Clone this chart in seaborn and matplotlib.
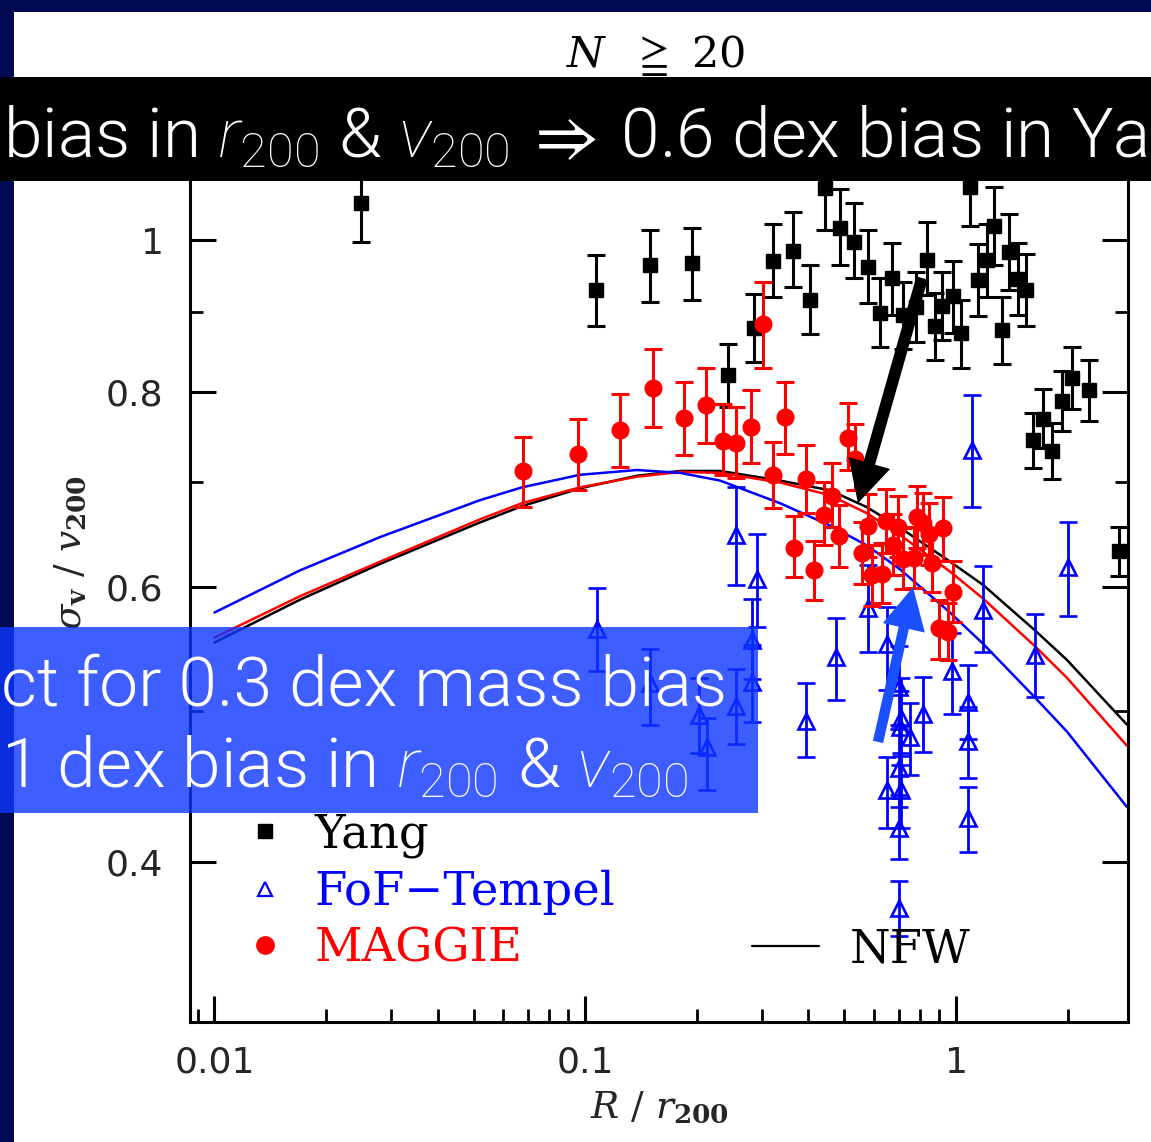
import numpy as np
import pandas as pd
import matplotlib
matplotlib.use("Agg")
import matplotlib.pyplot as plt
import matplotlib.ticker as mticker
import matplotlib.font_manager as fm
from matplotlib.patches import Rectangle
from matplotlib.lines import Line2D
import seaborn as sns

# ---------------- data ----------------
yang_x = [0.0248, 0.1069, 0.1495, 0.1941, 0.2427, 0.2853, 0.3209, 0.3635, 0.4039, 0.4430,
          0.4865, 0.5307, 0.579, 0.624, 0.672, 0.719, 0.780, 0.834, 0.876, 0.917,
          0.982, 1.032, 1.091, 1.146, 1.212, 1.270, 1.327, 1.389, 1.470, 1.544,
          1.614, 1.717, 1.815, 1.932, 2.055, 2.278, 2.753]
yang_y = [1.057, 0.929, 0.964, 0.967, 0.820, 0.879, 0.970, 0.985, 0.916, 1.080,
          1.019, 0.997, 0.962, 0.898, 0.946, 0.896, 0.906, 0.972, 0.881, 0.908,
          0.921, 0.872, 1.081, 0.943, 0.972, 1.021, 0.876, 0.983, 0.944, 0.930,
          0.745, 0.769, 0.733, 0.789, 0.817, 0.802, 0.633]
yang_lo = [0.997, 0.882, 0.913, 0.916, 0.782, 0.836, 0.920, 0.933, 0.871, 1.016,
           0.964, 0.946, 0.912, 0.854, 0.896, 0.852, 0.861, 0.922, 0.839, 0.863,
           0.873, 0.829, 1.021, 0.894, 0.920, 0.965, 0.834, 0.930, 0.896, 0.882,
           0.715, 0.737, 0.704, 0.755, 0.780, 0.766, 0.610]
yang_hi = [1.122, 0.978, 1.016, 1.019, 0.858, 0.924, 1.025, 1.042, 0.964, 1.147,
           1.078, 1.056, 1.016, 0.946, 0.996, 0.940, 0.954, 1.027, 0.926, 0.955,
           0.970, 0.916, 1.147, 0.994, 1.025, 1.081, 0.920, 1.039, 0.996, 0.980,
           0.776, 0.803, 0.764, 0.825, 0.854, 0.838, 0.656]

maggie_x = [0.0679, 0.0956, 0.1241, 0.1523, 0.1847, 0.2118, 0.2352, 0.2551, 0.2800, 0.3016,
            0.3209, 0.3458, 0.3660, 0.3932, 0.4140, 0.4406, 0.4629, 0.4837, 0.5113, 0.5326,
            0.5577, 0.579, 0.593, 0.631, 0.647, 0.676, 0.698, 0.719, 0.770, 0.785,
            0.815, 0.848, 0.862, 0.898, 0.922, 0.952, 0.982]
maggie_y = [0.712, 0.730, 0.756, 0.804, 0.770, 0.785, 0.744, 0.742, 0.760, 0.884,
            0.708, 0.771, 0.636, 0.704, 0.615, 0.667, 0.686, 0.647, 0.747, 0.725,
            0.631, 0.657, 0.611, 0.612, 0.661, 0.638, 0.656, 0.625, 0.626, 0.665,
            0.659, 0.649, 0.622, 0.565, 0.655, 0.562, 0.596]
maggie_lo = [0.675, 0.692, 0.716, 0.760, 0.729, 0.742, 0.708, 0.705, 0.720, 0.829,
             0.674, 0.730, 0.609, 0.669, 0.589, 0.638, 0.656, 0.618, 0.713, 0.692,
             0.603, 0.627, 0.584, 0.586, 0.631, 0.611, 0.627, 0.598, 0.599, 0.636,
             0.629, 0.620, 0.596, 0.540, 0.624, 0.539, 0.570]
maggie_hi = [0.748, 0.769, 0.798, 0.852, 0.812, 0.829, 0.786, 0.782, 0.802, 0.940,
             0.743, 0.812, 0.666, 0.740, 0.642, 0.700, 0.720, 0.677, 0.787, 0.763,
             0.660, 0.688, 0.638, 0.640, 0.693, 0.668, 0.686, 0.655, 0.656, 0.696,
             0.689, 0.679, 0.652, 0.589, 0.685, 0.586, 0.624]

fof_x = [0.1076, 0.1495, 0.2031, 0.2127, 0.2551, 0.2551, 0.2818, 0.2818, 0.2898, 0.3932,
         0.4746, 0.579, 0.6514, 0.6514, 0.700, 0.712, 0.706, 0.700, 0.712, 0.700,
         0.702, 0.751, 0.815, 0.975, 1.078, 1.078, 1.078, 1.105, 1.183, 1.633, 2.005]
fof_y = [0.564, 0.521, 0.497, 0.474, 0.648, 0.504, 0.555, 0.522, 0.607, 0.493,
         0.541, 0.582, 0.552, 0.445, 0.518, 0.495, 0.488, 0.460, 0.445, 0.421,
         0.374, 0.481, 0.498, 0.530, 0.507, 0.478, 0.427, 0.734, 0.580, 0.543, 0.618]
fof_lo = [0.530, 0.490, 0.470, 0.445, 0.602, 0.476, 0.524, 0.492, 0.566, 0.467,
          0.508, 0.545, 0.516, 0.421, 0.490, 0.468, 0.462, 0.434, 0.421, 0.402,
          0.359, 0.455, 0.471, 0.498, 0.480, 0.453, 0.406, 0.675, 0.545, 0.510, 0.575]
fof_hi = [0.599, 0.548, 0.525, 0.495, 0.695, 0.532, 0.590, 0.551, 0.649, 0.521,
          0.573, 0.620, 0.583, 0.467, 0.550, 0.525, 0.515, 0.487, 0.470, 0.442,
          0.389, 0.506, 0.526, 0.561, 0.535, 0.503, 0.447, 0.796, 0.619, 0.577, 0.660]

curve_x = [0.0100, 0.0170, 0.0280, 0.0520, 0.0675, 0.0968, 0.1379, 0.1801, 0.2309, 0.3351,
           0.4572, 0.5752, 0.7062, 0.9634, 1.183, 1.633, 1.992, 2.892]
nfw_yang = [0.553, 0.589, 0.621, 0.660, 0.676, 0.694, 0.707, 0.712, 0.712, 0.702,
            0.692, 0.675, 0.655, 0.623, 0.602, 0.563, 0.539, 0.490]
nfw_maggie = [0.557, 0.592, 0.623, 0.663, 0.679, 0.695, 0.706, 0.711, 0.710, 0.700,
              0.687, 0.669, 0.648, 0.614, 0.590, 0.550, 0.525, 0.475]
nfw_fof = [0.578, 0.615, 0.646, 0.682, 0.695, 0.708, 0.713, 0.710, 0.702, 0.679,
           0.657, 0.638, 0.616, 0.578, 0.552, 0.510, 0.485, 0.434]

x_ticks = [0.01, 0.1, 1]
x_tick_labels = ["0.01", "0.1", "1"]
y_ticks = [0.4, 0.6, 0.8, 1.0]
y_tick_labels = ["0.4", "0.6", "0.8", "1"]
y_minor = [0.5, 0.7, 0.9]

legend_labels = ["Yang", "FoF\u2212Tempel", "MAGGIE"]
title_txt = r"$N\ \ \geqq\ 20$"
banner_txt = r"bias in $r_{200}$ & $v_{200}\,\Rightarrow\,$0.6 dex bias in Ya"
box_line1 = "ct for 0.3 dex mass bias"
box_line2 = r"1 dex bias in $r_{200}$ & $v_{200}$"

# ---------------- style ----------------
sns.set_theme(style="ticks")
plt.rcParams["font.family"] = ["DejaVu Sans"]
plt.rcParams["mathtext.fontset"] = "dejavuserif"
plt.rcParams["axes.linewidth"] = 2.2


def find_light():
    for pref in ["Roboto", "Open Sans", "Lato", "Inter", "Noto Sans"]:
        for f in fm.fontManager.ttflist:
            if f.name != pref or f.style != "normal":
                continue
            w = f.weight
            if not isinstance(w, (int, float)):
                w = fm.weight_dict.get(w, 400)
            if 250 <= w <= 350:
                return f.name, int(w)
    return "DejaVu Sans", 400


lfam, lweight = find_light()
plt.rcParams["mathtext.rm"] = f"{lfam}:light"
plt.rcParams["mathtext.it"] = f"{lfam}:italic:light"
plt.rcParams["mathtext.bf"] = f"{lfam}:bold"
plt.rcParams["mathtext.fallback"] = "stixsans"

W, H = 1151, 1142
fig = plt.figure(figsize=(W / 100, H / 100), dpi=100, facecolor="white")
ax = fig.add_axes([190 / W, 1 - 1022 / H, (1128 - 190) / W, (1022 - 84) / H])
ax.set_facecolor("white")
ax.set_xscale("log")
ax.set_yscale("log")

# model curves
curves = pd.DataFrame({"x": curve_x, "yang": nfw_yang, "maggie": nfw_maggie, "fof": nfw_fof})
sns.lineplot(data=curves, x="x", y="yang", color="black", lw=1.8, ax=ax, zorder=2)
sns.lineplot(data=curves, x="x", y="maggie", color="red", lw=1.8, ax=ax, zorder=2)
sns.lineplot(data=curves, x="x", y="fof", color="blue", lw=1.8, ax=ax, zorder=2)


def errs(y, lo, hi):
    y, lo, hi = map(np.asarray, (y, lo, hi))
    return [y - lo, hi - y]


ax.errorbar(yang_x, yang_y, yerr=errs(yang_y, yang_lo, yang_hi), fmt="s", ms=9.5,
            mfc="black", mec="black", color="black", ecolor="black", elinewidth=2.2,
            capsize=6.5, capthick=2.2, zorder=3)
ax.errorbar(fof_x, fof_y, yerr=errs(fof_y, fof_lo, fof_hi), fmt="^", ms=11,
            mfc="none", mec="blue", mew=1.9, color="blue", ecolor="blue", elinewidth=2.0,
            capsize=6.5, zorder=4)
ax.errorbar(maggie_x, maggie_y, yerr=errs(maggie_y, maggie_lo, maggie_hi), fmt="o", ms=12,
            mfc="red", mec="red", color="red", ecolor="red", elinewidth=2.2,
            capsize=6.5, capthick=2.2, zorder=5)

# arrows
ax.annotate("", xy=(0.544, 0.679), xytext=(0.810, 0.946),
            arrowprops=dict(arrowstyle="simple,head_length=3.0,head_width=3.1,tail_width=0.85",
                            mutation_scale=10, fc="black", ec="black", lw=0,
                            shrinkA=0, shrinkB=0), zorder=8)
ax.annotate("", xy=(0.7656, 0.600), xytext=(0.6161, 0.4777),
            arrowprops=dict(arrowstyle="simple,head_length=3.0,head_width=3.1,tail_width=0.75",
                            mutation_scale=10, fc="#1a50ff", ec="#1a50ff", lw=0,
                            shrinkA=0, shrinkB=0), zorder=8)

# axes
ax.set_xlim(0.00859, 2.91)
ax.set_ylim(10 ** -0.5, 10 ** 0.1)
ax.xaxis.set_major_locator(mticker.FixedLocator(x_ticks))
ax.xaxis.set_major_formatter(mticker.FixedFormatter(x_tick_labels))
ax.xaxis.set_minor_locator(mticker.LogLocator(base=10, subs=np.arange(2, 10)))
ax.xaxis.set_minor_formatter(mticker.NullFormatter())
ax.yaxis.set_major_locator(mticker.FixedLocator(y_ticks))
ax.yaxis.set_major_formatter(mticker.FixedFormatter(y_tick_labels))
ax.yaxis.set_minor_locator(mticker.FixedLocator(y_minor))
ax.yaxis.set_minor_formatter(mticker.NullFormatter())
ax.tick_params(which="both", direction="in", top=True, right=True, color="black")
ax.tick_params(which="major", length=18.5, width=2.2, labelsize=26)
ax.tick_params(which="minor", length=9.4, width=2.0)
ax.tick_params(axis="x", which="major", pad=17)
ax.tick_params(axis="y", which="major", pad=19)
for s in ax.spines.values():
    s.set_color("black")
    s.set_linewidth(2.2)

ax.set_xlabel(r"$R\ /\ r_{\mathbf{200}}$", fontsize=27, labelpad=8, math_fontfamily="dejavuserif")
ax.set_ylabel(r"$\sigma_{\mathbf{v}}\ /\ v_{\mathbf{200}}$", fontsize=27, labelpad=12,
              math_fontfamily="dejavuserif")

# legends
handles = [Line2D([], [], ls="none", marker="s", ms=9.5, color="black"),
           Line2D([], [], ls="none", marker="^", ms=10, mfc="none", mec="blue", mew=1.6),
           Line2D([], [], ls="none", marker="o", ms=12.5, color="red")]
leg1 = ax.legend(handles, legend_labels, loc="upper left", bbox_to_anchor=(0.060, 0.2237),
                 frameon=False, prop={"family": "DejaVu Serif", "size": 33.5},
                 labelcolor=["black", "blue", "red"], handlelength=0.8, handletextpad=0.66,
                 borderpad=0, borderaxespad=0, labelspacing=0.25)
ax.add_artist(leg1)
leg2 = ax.legend([Line2D([], [], color="black", lw=1.6)], ["NFW"], loc="upper left",
                 bbox_to_anchor=(0.599, 0.1013), frameon=False,
                 prop={"family": "DejaVu Serif", "size": 33.5}, labelcolor="black",
                 handlelength=1.44, handletextpad=0.655, borderpad=0, borderaxespad=0)

# title
fig.text(655 / W, 1 - 55 / H, title_txt, ha="center", va="center", fontsize=31,
         math_fontfamily="dejavuserif", color="black")

# background frame + overlays
navy = (0, 10 / 255, 80 / 255)
fig.add_artist(Rectangle((0, 1 - 12 / H), 1, 12 / H, transform=fig.transFigure,
                         fc=navy, ec="none", zorder=4))
fig.add_artist(Rectangle((0, 0), 14 / W, 1, transform=fig.transFigure,
                         fc=navy, ec="none", zorder=4))
fig.add_artist(Rectangle((0, 1 - 181 / H), 1, 104 / H, transform=fig.transFigure,
                         fc="black", ec="none", zorder=5))
fig.add_artist(Rectangle((0, 1 - 813 / H), 758 / W, 186 / H, transform=fig.transFigure,
                         fc=(13 / 255, 54 / 255, 1.0), ec="none", alpha=0.8, zorder=5))

common = dict(color="white", fontsize=50, fontfamily=lfam, fontweight=lweight,
              ha="left", va="baseline", math_fontfamily="custom", zorder=6)
fig.text(3 / W, 1 - 157 / H, banner_txt, **common)
fig.text(1 / W, 1 - 705 / H, box_line1, **common)
fig.text(1 / W, 1 - 787 / H, box_line2, **common)

fig.savefig("out.png", dpi=100, facecolor="white")
